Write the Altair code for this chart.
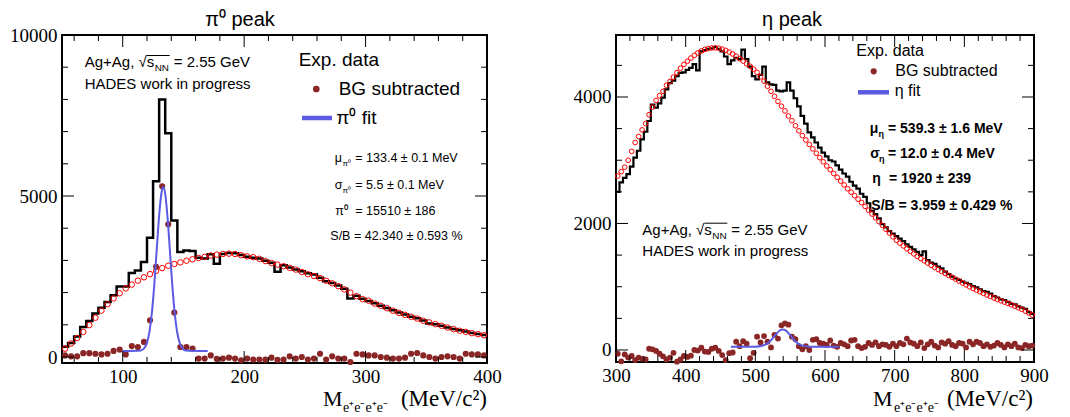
import altair as alt
import pandas as pd

# ---------------- data: pi0 panel (5 MeV bins, 50-400) ----------------
pi_bin_start = 50
pi_bin_width = 5
pi_hist = [320, 435, 640, 930, 1120, 1350, 1530, 1710, 1915, 2190,
           2190, 2610, 2690, 2950, 3700, 5455, 8000, 6950, 4240, 3260,
           3310, 3290, 3080, 3060, 3190, 2900, 3200, 3230, 3220, 3170,
           3110, 3080, 3060, 2990, 2930, 2650, 2850, 2780, 2720, 2660,
           2600, 2560, 2460, 2350, 2300, 2220, 2120, 1820, 1900, 1810,
           1740, 1670, 1590, 1520, 1450, 1380, 1320, 1250, 1200, 1130,
           1040, 1020, 970, 920, 870, 830, 790, 745, 715, 680]
pi_bg = [258, 420, 590, 780, 990, 1220, 1440, 1640, 1820, 1980,
         2130, 2250, 2370, 2475, 2575, 2675, 2760, 2835, 2890, 2940,
         2990, 3035, 3075, 3110, 3150, 3180, 3200, 3210, 3200, 3160,
         3125, 3100, 3050, 2980, 2920, 2870, 2820, 2770, 2715, 2640,
         2570, 2515, 2450, 2370, 2290, 2200, 2100, 2000, 1890, 1800,
         1750, 1660, 1590, 1515, 1440, 1370, 1310, 1250, 1195, 1125,
         1075, 1020, 970, 915, 865, 815, 780, 740, 710, 675]
pi_sub = [50, 20, 20, 120, 120, 100, 80, 100, 190, 230,
          80, 340, 310, 470, 1140, 2800, 5300, 4120, 1380, 310,
          310, 260, -50, -50, 50, -60, -50, -20, -50, -100,
          -50, -80, -80, -80, -20, -90, -80, 20, -50, 0,
          -80, -50, 100, -80, 20, -50, -50, -155, 100, 80,
          50, 50, 0, -20, -50, -50, -20, 100, 125, 50,
          0, -50, 0, 20, 0, -50, 100, 80, 80, 50]
pi_fit_x = [100, 115, 118, 120, 122, 124, 126, 128, 130, 132, 133.4,
            135, 137, 139, 141, 143, 145, 147, 149, 152, 170]
pi_fit_y = [186, 205, 287, 448, 780, 1368, 2247, 3332, 4394, 5118, 5280,
            5069, 4297, 3220, 2147, 1297, 737, 426, 277, 203, 186]

# ---------------- data: eta panel (5 MeV bins, 300-900) ----------------
eta_bin_start = 300
eta_bin_width = 5
eta_hist = [2500, 2650, 2720, 2780, 2900, 3040, 3150, 3330, 3450, 3620,
            3880, 3830, 3900, 3990, 4120, 4220, 4260, 4330, 4380, 4390,
            4430, 4460, 4520, 4420, 4720, 4740, 4760, 4770, 4790, 4760,
            4720, 4640, 4520, 4580, 4620, 4600, 4750, 4600, 4480, 4330,
            4280, 4350, 4480, 4230, 4200, 4190, 4100, 4090, 4100, 4230,
            4100, 3980, 3850, 3700, 3580, 3440, 3360, 3280, 3200, 3120,
            3060, 3000, 2980, 2920, 2850, 2790, 2740, 2660, 2600, 2550,
            2470, 2420, 2320, 2200, 2150, 2080, 1990, 1940, 1880, 1840,
            1800, 1760, 1720, 1670, 1630, 1590, 1550, 1500, 1560, 1420,
            1380, 1360, 1320, 1290, 1240, 1200, 1160, 1130, 1110, 1080,
            1060, 1040, 1010, 990, 960, 930, 920, 890, 850, 830,
            800, 790, 760, 730, 720, 690, 670, 650, 600, 570]
eta_bg = [2750, 2820, 2890, 3000, 3140, 3280, 3375, 3480, 3580, 3720,
          3840, 3945, 4020, 4090, 4185, 4245, 4315, 4385, 4455, 4515,
          4565, 4615, 4658, 4697, 4727, 4752, 4767, 4775, 4777, 4772,
          4756, 4737, 4710, 4680, 4645, 4607, 4568, 4525, 4485, 4440,
          4390, 4320, 4250, 4170, 4090, 4010, 3930, 3855, 3780, 3700,
          3625, 3545, 3465, 3390, 3320, 3250, 3180, 3110, 3040, 2975,
          2910, 2850, 2790, 2730, 2670, 2610, 2550, 2495, 2440, 2385,
          2330, 2270, 2210, 2150, 2090, 2030, 1970, 1910, 1850, 1790,
          1735, 1690, 1645, 1600, 1560, 1520, 1480, 1445, 1410, 1375,
          1340, 1305, 1272, 1240, 1210, 1180, 1150, 1120, 1090, 1060,
          1030, 1000, 972, 946, 920, 895, 870, 846, 822, 800,
          778, 757, 736, 715, 692, 668, 643, 615, 585, 555]
eta_sub = [-60, -180, -70, -120, -95, -160, -120, -140, -150, 20,
           10, -15, -60, -100, -150, -120, -45, -185, -150, -95,
           -110, -90, 0, -10, 35, -25, -30, 20, 35, -15,
           -80, -160, -50, -40, 130, 60, 140, 100, -130, -45,
           210, 120, 220, 130, 40, 240, 180, 390, 420, 400,
           210, 170, 60, 10, 60, 0, 160, 170, 110, 100,
           80, 150, 70, 50, 110, 90, 60, 150, 160, 60,
           30, 50, 110, 80, 120, 60, 90, 80, 50, 100,
           60, 110, 90, 180, 120, 100, 60, 120, 30, 90,
           130, 70, 40, 120, 100, 140, 80, 60, 110, 100,
           40, 130, 90, 130, 110, 60, 90, 50, 70, 110,
           80, 40, 90, 60, 100, 40, 30, 80, 60, 70]
eta_fit_x = [465, 500, 510, 515, 520, 525, 530, 535, 539.3, 544, 549,
             554, 559, 564, 569, 579, 620]
eta_fit_y = [52, 53, 66, 87, 127, 186, 254, 308, 325, 305, 249,
             181, 123, 85, 65, 53, 52]

# axis tick values
pi_x_labels = [100, 200, 300, 400]
pi_x_minor = [60, 80, 120, 140, 160, 180, 220, 240, 260, 280, 320, 340, 360, 380]
pi_y_labels = [0, 5000, 10000]
pi_y_minor = [1000, 2000, 3000, 4000, 6000, 7000, 8000, 9000]
eta_x_labels = [300, 400, 500, 600, 700, 800, 900]
eta_x_minor = [320, 340, 360, 380, 420, 440, 460, 480, 520, 540, 560, 580,
               620, 640, 660, 680, 720, 740, 760, 780, 820, 840, 860, 880]
eta_y_labels = [0, 2000, 4000]
eta_y_minor = [500, 1000, 1500, 2500, 3000, 3500, 4500]

SANS = "Liberation Sans"
SERIF = "Liberation Serif"
DOT = "#8b2626"
BLUE = "#5a5ae2"
DUMMY = pd.DataFrame({"a": [0]})


def hist_df(start, width, vals):
    xs = [start + width * i for i in range(len(vals))] + [start + width * len(vals)]
    return pd.DataFrame({"x": xs, "y": list(vals) + [vals[-1]]})


def center_df(start, width, vals):
    return pd.DataFrame({"x": [start + width * (i + 0.5) for i in range(len(vals))], "y": vals})


def txt(s, x, y, size, font=SANS, weight="normal", align="left"):
    return alt.Chart(DUMMY).mark_text(
        text=s, font=font, fontSize=size, fontWeight=weight, align=align,
        baseline="alphabetic", color="black"
    ).encode(x=alt.value(x), y=alt.value(y))


def hline(x1, x2, y, color, width):
    return alt.Chart(DUMMY).mark_rule(color=color, strokeWidth=width).encode(
        x=alt.value(x1), x2=alt.value(x2), y=alt.value(y))


def panel(W, H, xdom, ydom, hist, bg, sub, fitx, fity, xlab, xmin, ylab, ymin,
          bgsize, subsize, hstroke):
    xs = alt.Scale(domain=xdom, nice=False, zero=False)
    ys = alt.Scale(domain=ydom, nice=False, zero=False)
    xaxis = alt.Axis(values=xlab, ticks=False, domain=False, grid=False, title=None,
                     labelFont=SERIF, labelFontSize=19, labelColor="black",
                     labelPadding=4, labelFlush=False, labelOverlap=False, format="d")
    yaxis = alt.Axis(values=ylab, ticks=False, domain=False, grid=False, title=None,
                     labelFont=SERIF, labelFontSize=19, labelColor="black",
                     labelPadding=5, labelFlush=False, labelOverlap=False, format="d")

    def X(f):
        return alt.X(f, scale=xs, axis=xaxis)

    def Y(f):
        return alt.Y(f, scale=ys, axis=yaxis)

    layers = []
    layers.append(alt.Chart(hist).mark_line(interpolate="step-after", color="black",
                                            strokeWidth=hstroke).encode(x=X("x:Q"), y=Y("y:Q")))
    layers.append(alt.Chart(bg).mark_point(shape="circle", filled=False, color="red",
                                           size=bgsize, strokeWidth=1, opacity=1).encode(
        x=X("x:Q"), y=Y("y:Q")))
    layers.append(alt.Chart(sub).mark_circle(color=DOT, size=subsize, opacity=1).encode(
        x=X("x:Q"), y=Y("y:Q")))
    layers.append(alt.Chart(pd.DataFrame({"x": fitx, "y": fity})).mark_line(
        color=BLUE, strokeWidth=2, interpolate="monotone").encode(x=X("x:Q"), y=Y("y:Q")))
    # inward ROOT-style ticks on all four sides
    for vals, L in ((xlab, 12), (xmin, 6)):
        d = pd.DataFrame({"v": vals})
        layers.append(alt.Chart(d).mark_rule(color="black", strokeWidth=1).encode(
            x=X("v:Q"), y=alt.value(H), y2=alt.value(H - L)))
        layers.append(alt.Chart(d).mark_rule(color="black", strokeWidth=1).encode(
            x=X("v:Q"), y=alt.value(0), y2=alt.value(L)))
    for vals, L in ((ylab, 12), (ymin, 6)):
        d = pd.DataFrame({"v": vals})
        layers.append(alt.Chart(d).mark_rule(color="black", strokeWidth=1).encode(
            y=Y("v:Q"), x=alt.value(0), x2=alt.value(L)))
        layers.append(alt.Chart(d).mark_rule(color="black", strokeWidth=1).encode(
            y=Y("v:Q"), x=alt.value(W - L), x2=alt.value(W)))
    return layers


def energy_label(x0, y0, size):
    # "Ag+Ag, sqrt(s_NN) = 2.55 GeV"
    return [
        txt("Ag+Ag, √s", x0, y0, size),
        txt("NN", x0 + 70, y0 + 4, size * 0.66),
        txt("= 2.55 GeV", x0 + 89, y0, size),
        hline(x0 + 62, x0 + 85, y0 - 11.5, "black", 1),
    ]


def mass_title(xm, xs_, xr, y):
    return [
        txt("M", xm, y, 22, font=SERIF),
        txt("e⁺e⁻e⁺e⁻", xs_, y + 6, 14, font=SERIF),
        txt("(MeV/c²)", xr, y, 23, font=SERIF, align="right"),
    ]


# ---------------- left panel ----------------
WL, HL = 425, 328
left_layers = panel(WL, HL, [50, 400], [-186, 10000],
                    hist_df(pi_bin_start, pi_bin_width, pi_hist),
                    center_df(pi_bin_start, pi_bin_width, pi_bg),
                    center_df(pi_bin_start, pi_bin_width, pi_sub),
                    pi_fit_x, pi_fit_y, pi_x_labels, pi_x_minor, pi_y_labels, pi_y_minor,
                    bgsize=30, subsize=38, hstroke=2.5)
left_layers += [txt("π⁰ peak", 178, -9.5, 20, align="center")]
left_layers += energy_label(22.7, 32, 15)
left_layers += [txt("HADES work in progress", 22.7, 54, 15)]
left_layers += [
    txt("Exp. data", 236.7, 31.3, 19),
    alt.Chart(DUMMY).mark_circle(color=DOT, size=45, opacity=1).encode(
        x=alt.value(254.3), y=alt.value(54)),
    txt("BG subtracted", 276.7, 59.7, 19),
    hline(240, 270, 83, BLUE, 4.5),
    txt("π⁰ fit", 274.3, 88.7, 19),
]
left_layers += [
    txt("μ", 272.7, 127.3, 12.5), txt("π⁰", 280.5, 131, 8),
    txt("= 133.4 ± 0.1 MeV", 293.3, 127.3, 12.5),
    txt("σ", 272.7, 154, 12.5), txt("π⁰", 280.5, 157.7, 8),
    txt("= 5.5 ± 0.1 MeV", 293.3, 154, 12.5),
    txt("π⁰", 273.3, 179.7, 12.5),
    txt("= 15510 ± 186", 293.3, 179.7, 12.5),
    txt("S/B = 42.340 ± 0.593 %", 268.3, 204.7, 12.5),
]
left_layers += mass_title(261, 281, 425, 371.3)
left = alt.layer(*left_layers).properties(width=WL, height=HL)

# ---------------- right panel ----------------
WR, HR = 418, 327
right_layers = panel(WR, HR, [300, 900], [-190, 4980],
                     hist_df(eta_bin_start, eta_bin_width, eta_hist),
                     center_df(eta_bin_start, eta_bin_width, eta_bg),
                     center_df(eta_bin_start, eta_bin_width, eta_sub),
                     eta_fit_x, eta_fit_y, eta_x_labels, eta_x_minor, eta_y_labels, eta_y_minor,
                     bgsize=22, subsize=34, hstroke=2.2)
right_layers += [txt("η peak", 176, -9.5, 20, align="center")]
right_layers += energy_label(26.3, 199.7, 15)
right_layers += [txt("HADES work in progress", 26.3, 221.3, 15)]
right_layers += [
    txt("Exp. data", 240.3, 21.3, 16),
    alt.Chart(DUMMY).mark_circle(color=DOT, size=38, opacity=1).encode(
        x=alt.value(257.7), y=alt.value(36.3)),
    txt("BG subtracted", 279.3, 40.7, 16),
    hline(242, 273, 57.3, BLUE, 4.5),
    txt("η fit", 278.7, 60.7, 16),
]
right_layers += [
    txt("μ", 253.7, 98, 14, weight="bold"), txt("η", 262.5, 102, 9, weight="bold"),
    txt("= 539.3 ± 1.6 MeV", 272, 98, 14, weight="bold"),
    txt("σ", 254.3, 123, 14, weight="bold"), txt("η", 263, 127, 9, weight="bold"),
    txt("= 12.0 ± 0.4 MeV", 272, 123, 14, weight="bold"),
    txt("η", 256.3, 148, 14, weight="bold"),
    txt("= 1920 ± 239", 273, 148, 14, weight="bold"),
    txt("S/B = 3.959 ± 0.429 %", 255.3, 174.7, 14, weight="bold"),
]
right_layers += mass_title(257, 278, 417, 371.3)
right = alt.layer(*right_layers).properties(width=WR, height=HR)

chart = alt.hconcat(left, right, spacing=69).properties(
    padding={"left": 0, "top": 0, "right": 0, "bottom": 0},
    background="white",
).configure_view(stroke="black", strokeWidth=2)

chart.save("out.html", embed_options={"renderer": "svg", "actions": False})
